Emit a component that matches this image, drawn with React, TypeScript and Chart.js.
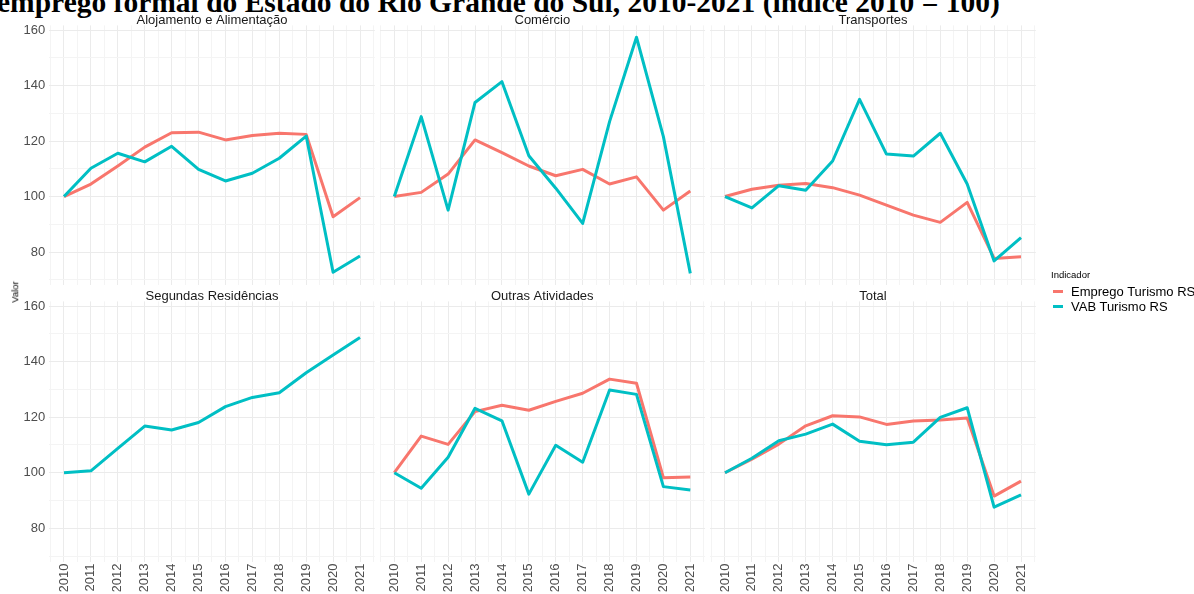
import React, { useEffect, useRef } from "react";
import { Chart, registerables } from "chart.js";

Chart.register(...registerables);

// ---------------- data ----------------
const years = [2010, 2011, 2012, 2013, 2014, 2015, 2016, 2017, 2018, 2019, 2020, 2021];

const panelTitles = [
  "Alojamento e Alimentação",
  "Comércio",
  "Transportes",
  "Segundas Residências",
  "Outras Atividades",
  "Total",
];

const seriesNames = ["Emprego Turismo RS", "VAB Turismo RS"];

const empregoAlojamento = [100, 104.5, 111.0, 117.8, 123.0, 123.2, 120.4, 122.0, 122.8, 122.4, 92.7, 99.6];
const vabAlojamento = [100, 110.2, 115.6, 112.5, 118.1, 109.8, 105.6, 108.4, 113.8, 121.8, 72.7, 78.6];

const empregoComercio = [100, 101.5, 108.1, 120.4, 115.8, 111.0, 107.5, 109.8, 104.5, 107.1, 95.1, 102.0];
const vabComercio = [100, 128.8, 95.1, 133.9, 141.4, 114.7, 103.0, 90.3, 127.0, 157.4, 121.6, 72.3];

const empregoTransportes = [100, 102.6, 104.1, 104.7, 103.2, 100.5, 96.9, 93.3, 90.7, 97.9, 77.7, 78.3];
const vabTransportes = [100, 95.9, 103.9, 102.3, 112.8, 135.0, 115.3, 114.6, 122.8, 104.5, 76.8, 85.2];

const vabSegundas = [100, 100.7, 108.8, 116.8, 115.4, 118.1, 123.8, 127.1, 128.8, 136.0, 142.4, 148.7];

const empregoOutras = [100, 113.2, 110.2, 122.0, 124.3, 122.5, 125.7, 128.6, 133.7, 132.2, 98.2, 98.5];
const vabOutras = [100, 94.4, 105.6, 123.2, 118.7, 92.3, 109.9, 103.8, 129.8, 128.2, 95.0, 93.8];

const empregoTotal = [100, 104.9, 110.3, 116.9, 120.5, 120.1, 117.4, 118.6, 119.0, 119.7, 91.6, 97.0];
const vabTotal = [100, 105.2, 111.5, 113.9, 117.5, 111.3, 110.1, 111.0, 119.9, 123.4, 87.6, 92.0];

const empregoByPanel: (number[] | null)[] = [
  empregoAlojamento, empregoComercio, empregoTransportes, null, empregoOutras, empregoTotal,
];
const vabByPanel: (number[] | null)[] = [
  vabAlojamento, vabComercio, vabTransportes, vabSegundas, vabOutras, vabTotal,
];

const titleText = "emprego formal do Estado do Rio Grande do Sul, 2010-2021 (índice 2010 = 100)";
const legendTitle = "Indicador";
const yAxisTitle = "Valor";

// ---------------- layout / style ----------------
const W = 1194;
const H = 594;
const COLS = [
  { L: 49.2, R: 374.8 },
  { L: 379.5, R: 705.1 },
  { L: 710.2, R: 1035.8 },
];
const ROWS = [
  { T: 25.4, B: 285.2 },
  { T: 301.4, B: 561.5 },
];
const Y_MIN = 68.05;
const Y_MAX = 161.67;
const X_MIN = 2009.45;
const X_MAX = 2021.55;
const YW = 30;
const XH = 30;
const TH = 10.4;

const RED = "#F8766D";
const TEAL = "#00BFC4";
const GRID_MAJOR = "#EBEBEB";
const GRID_MINOR = "#F4F4F4";
const SANS = "'Liberation Sans', Arial, sans-serif";

function makeChart(canvas: HTMLCanvasElement, p: number) {
  const col = p % 3;
  const row = Math.floor(p / 3);
  const { L, R } = COLS[col];
  const { T, B } = ROWS[row];
  const showY = col === 0;
  const showX = row === 1;
  const yw = showY ? YW : 0;
  const xh = showX ? XH : 0;

  const datasets: any[] = [];
  const emp = empregoByPanel[p];
  const vab = vabByPanel[p];
  const common = {
    pointRadius: 0,
    borderWidth: 3,
    borderJoinStyle: "round",
    borderCapStyle: "butt",
    fill: false,
    tension: 0,
  };
  if (emp) {
    datasets.push({
      ...common,
      label: seriesNames[0],
      data: years.map((yr, i) => ({ x: yr, y: emp[i] })),
      borderColor: RED,
      backgroundColor: RED,
      order: 1,
    });
  }
  if (vab) {
    datasets.push({
      ...common,
      label: seriesNames[1],
      data: years.map((yr, i) => ({ x: yr, y: vab[i] })),
      borderColor: TEAL,
      backgroundColor: TEAL,
      order: 0,
    });
  }

  return new Chart(canvas, {
    type: "line",
    data: { datasets },
    options: {
      responsive: false,
      animation: false,
      events: [],
      layout: {
        padding: { left: L - yw, right: W - R, top: T - TH, bottom: H - B - xh },
      },
      plugins: {
        legend: { display: false },
        tooltip: { enabled: false },
        title: {
          display: true,
          text: panelTitles[p],
          fullSize: false,
          padding: 0,
          color: "#1A1A1A",
          font: { family: SANS, size: 13, weight: "normal", lineHeight: 0.8 },
        },
      },
      scales: {
        x: {
          type: "linear",
          min: X_MIN,
          max: X_MAX,
          afterFit: (s: any) => {
            s.height = xh;
          },
          border: { display: false },
          grid: {
            drawTicks: false,
            color: (ctx: any) =>
              ctx.tick && Number.isInteger(ctx.tick.value) ? GRID_MAJOR : GRID_MINOR,
            lineWidth: 1,
          },
          ticks: {
            display: showX,
            stepSize: 0.5,
            includeBounds: false,
            autoSkip: false,
            maxTicksLimit: 100,
            maxRotation: 90,
            minRotation: 90,
            padding: 2,
            color: "#4D4D4D",
            font: { family: SANS, size: 13 },
            callback: (v: any) => (Number.isInteger(v) ? String(v) : ""),
          },
        },
        y: {
          type: "linear",
          min: Y_MIN,
          max: Y_MAX,
          afterFit: (s: any) => {
            s.width = yw;
          },
          border: { display: false },
          grid: {
            drawTicks: false,
            color: (ctx: any) =>
              ctx.tick && Math.round(ctx.tick.value) % 20 === 0 ? GRID_MAJOR : GRID_MINOR,
            lineWidth: 1,
          },
          ticks: {
            display: showY,
            stepSize: 10,
            includeBounds: false,
            padding: 4,
            color: "#4D4D4D",
            font: { family: SANS, size: 13 },
            callback: (v: any) => (Math.round(v) % 20 === 0 ? String(v) : ""),
          },
        },
      },
    } as any,
  });
}

function Panel({ index }: { index: number }) {
  const ref = useRef<HTMLCanvasElement | null>(null);
  useEffect(() => {
    if (!ref.current) return;
    const chart = makeChart(ref.current, index);
    return () => chart.destroy();
  }, [index]);
  return (
    <canvas
      ref={ref}
      width={W}
      height={H}
      style={{ position: "absolute", left: 0, top: 0, width: W, height: H }}
    />
  );
}

export default function App() {
  return (
    <div
      style={{
        position: "absolute",
        left: 0,
        top: 0,
        width: W,
        height: H,
        overflow: "hidden",
        background: "#FFFFFF",
      }}
    >
      <div
        style={{
          position: "absolute",
          left: -3,
          top: -12.4,
          font: "bold 29.5px 'Liberation Serif', 'Times New Roman', serif",
          lineHeight: "29.5px",
          whiteSpace: "nowrap",
          color: "#000",
        }}
      >
        {titleText}
      </div>
      {panelTitles.map((_, i) => (
        <Panel key={i} index={i} />
      ))}
      <div
        style={{
          position: "absolute",
          left: 15,
          top: 292,
          transform: "translate(-50%, -50%) rotate(-90deg)",
          font: `9.5px ${SANS}`,
          lineHeight: 1,
          color: "#000",
          whiteSpace: "nowrap",
        }}
      >
        {yAxisTitle}
      </div>
      <div
        style={{
          position: "absolute",
          left: 1051,
          top: 270.4,
          font: `9.5px ${SANS}`,
          lineHeight: 1,
          color: "#000",
          whiteSpace: "nowrap",
        }}
      >
        {legendTitle}
      </div>
      {seriesNames.map((name, i) => {
        const cy = i === 0 ? 291.7 : 306.7;
        return (
          <React.Fragment key={name}>
            <div
              style={{
                position: "absolute",
                left: 1053,
                top: cy - 1.5,
                width: 10,
                height: 3,
                background: i === 0 ? RED : TEAL,
              }}
            />
            <div
              style={{
                position: "absolute",
                left: 1071,
                top: cy - 6.4,
                font: `13px ${SANS}`,
                lineHeight: 1,
                color: "#000",
                whiteSpace: "nowrap",
              }}
            >
              {name}
            </div>
          </React.Fragment>
        );
      })}
    </div>
  );
}
